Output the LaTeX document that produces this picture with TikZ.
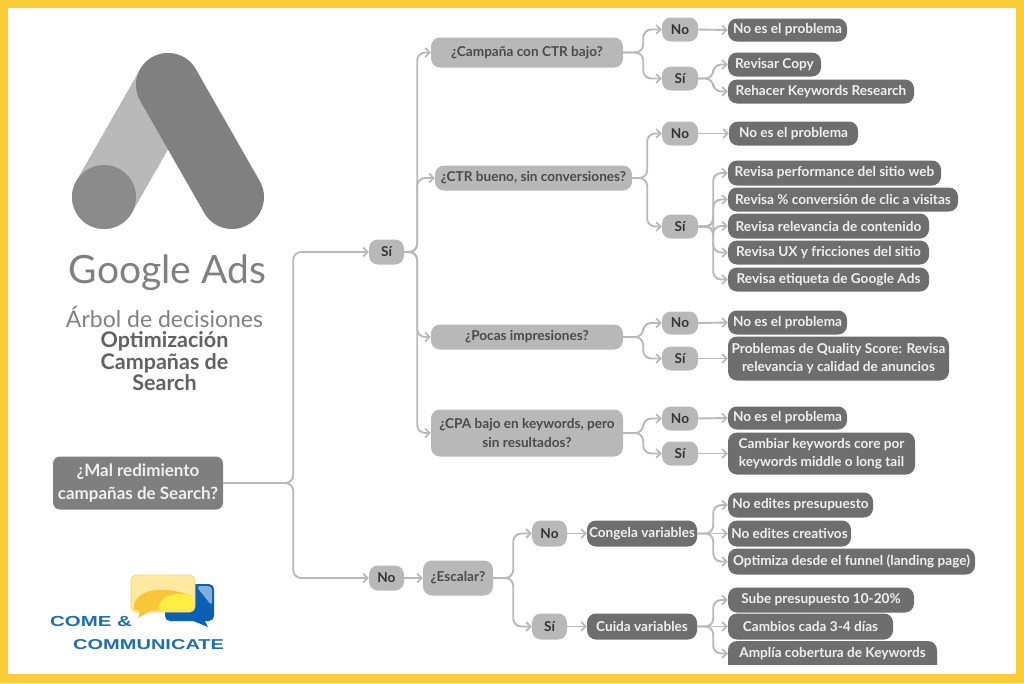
\documentclass[tikz,border=0pt]{standalone}
\usepackage{fontspec}
\setmainfont{Lato}
\newfontfamily\logofont[FakeStretch=1.4]{Liberation Sans}
\usetikzlibrary{arrows.meta}
\definecolor{frameY}{HTML}{FBCD37}
\definecolor{lineG}{HTML}{B9B9B9}
\definecolor{darkbox}{HTML}{6E6E6E}
\definecolor{rootbox}{HTML}{7F7F7F}
\definecolor{midbox}{HTML}{B8B8B8}
\definecolor{midtext}{HTML}{4A4A4A}
\definecolor{logodark}{HTML}{808080}
\definecolor{logolight}{HTML}{B9B9B9}
\definecolor{logocirc}{HTML}{8B8B8B}
\definecolor{cblue}{HTML}{1F6DB2}
\definecolor{cbluedk}{HTML}{0B5FB5}
\definecolor{cyel}{HTML}{F9C63A}
\definecolor{cyellt}{HTML}{FDE9A0}
\tikzset{
  boxbase/.style={inner sep=0pt,align=center,font=\bfseries\fontsize{13.6}{18.5}\selectfont},
  leafbox/.style={boxbase,fill=darkbox,text=white!94!black,rounded corners=9pt},
  midnode/.style={boxbase,fill=midbox,text=midtext,rounded corners=9pt},
  answer/.style={boxbase,fill=midbox,text=black!80,rounded corners=9pt},
  rootnode/.style={boxbase,fill=rootbox,text=white!94!black,rounded corners=7pt,font=\bfseries\fontsize{17}{22.5}\selectfont},
  plainlabel/.style={boxbase,text=white!94!black},
  conn/.style={draw=lineG,line width=1.9pt,rounded corners=8pt,-{Straight Barb[length=4.5pt,width=9pt,line width=1.7pt]}},
}
\newcommand{\bx}[7]{\node[#2,minimum width={(#5-#3)*1pt},minimum height={(#6-#4)*1pt}] (#1) at ({(#3+#5)/2},{(#4+#6)/2+0.5}) {#7};}
\newcommand{\cn}[3]{\draw[conn] (#1.east) -- ++(#3,0) |- (#2.west);}
\newcommand{\st}[2]{\draw[conn] (#1.east) -- (#2.west);}
\begin{document}
\begin{tikzpicture}[x=1pt,y=-1pt]
\useasboundingbox (0,0) rectangle (1024,683);
\fill[frameY] (0,0) rectangle (1024,683);
\fill[white] (8,8) rectangle (1016,674);
% Google Ads mark
\draw[logolight,line width=64pt,line cap=round] (168,85) -- (104,197);
\fill[logocirc] (104,197) circle (32);
\draw[logodark,line width=64pt,line cap=round] (168,85) -- (232,197);
% title
\node[text=logodark,font=\fontsize{39}{39}\selectfont,inner sep=0pt] (brand) at (167.5,273) {Google Ads};
\node[text=logodark,font=\fontsize{23}{23}\selectfont,inner sep=0pt] (arbol) at (164.5,317) {Árbol de decisiones};
\node[text=black!62,font=\bfseries\fontsize{21.5}{21.5}\selectfont,align=center,inner sep=0pt] (optim) at (164.5,361.5) {Optimización\\Campañas de\\Search};
% Come & Communicate mark
\fill[cbluedk,rounded corners=5pt] (165,584) rectangle (214,621);
\fill[cbluedk] (186,618) -- (208,627) -- (202,615) -- cycle;
\fill[cblue!55!white,rounded corners=4pt] (196,586) -- (212,586) -- (212,606) -- cycle;
\fill[cyellt,draw=cyel!80!white,line width=.6pt,rounded corners=5pt] (131,575) rectangle (195,612);
\fill[cyel] (138,618) -- (141,608) -- (150,611) -- cycle;
\fill[cyel,rounded corners=4pt] (133,610.5) .. controls (136,590) and (160,585) .. (193,596) -- (193.5,610.5) -- cycle;
\fill[yellow!60!cyellt,rounded corners=3pt] (158,610.5) .. controls (160,596) and (176,591) .. (193,596) -- (193.5,610.5) -- cycle;
\node[text=cblue,font=\bfseries\fontsize{14.6}{14.5}\selectfont\logofont,inner sep=0pt,anchor=west] (come) at (50,621) {COME \&};
\node[text=cblue,font=\bfseries\fontsize{14.3}{14.5}\selectfont\logofont,inner sep=0pt,anchor=west] (comm) at (73,644.5) {COMMUNICATE};
% root and first level
\bx{root}{rootnode}{53}{456}{223}{509}{¿Mal redimiento\\campañas de Search?}
\bx{si}{answer}{369}{239}{404}{264}{Sí}
\bx{no}{answer}{369}{565}{404}{590}{No}
% questions
\bx{qa}{midnode}{431}{37}{623}{67}{¿Campaña con CTR bajo?}
\bx{qb}{midnode}{435}{165}{632}{190}{¿CTR bueno, sin conversiones?}
\bx{qc}{midnode}{431}{324}{623}{349}{¿Pocas impresiones?}
\bx{qd}{midnode}{431}{409}{623}{456}{¿CPA bajo en keywords, pero\\sin resultados?}
\bx{esc}{midnode}{423}{560}{493}{595}{¿Escalar?}
% answers
\bx{an}{answer}{662}{17}{698}{41}{No}
\bx{as}{answer}{662}{66}{698}{90}{Sí}
\bx{bn}{answer}{662}{121}{698}{145}{No}
\bx{bs}{answer}{662}{214}{698}{238}{Sí}
\bx{cn}{answer}{662}{311}{698}{334}{No}
\bx{cs}{answer}{662}{346}{698}{370}{Sí}
\bx{dn}{answer}{662}{406}{698}{430}{No}
\bx{ds}{answer}{662}{441}{698}{465}{Sí}
\bx{en}{answer}{532}{520}{567}{546}{No}
\bx{es}{answer}{532}{613}{567}{639}{Sí}
% leaves
\bx{la}{leafbox}{728}{18}{847}{41}{No es el problema}
\bx{lb}{leafbox}{728}{52}{821}{76}{Revisar Copy}
\bx{lc}{leafbox}{728}{79}{914}{103}{Rehacer Keywords Research}
\bx{ld}{leafbox}{729}{121}{858}{145}{No es el problema}
\bx{le}{leafbox}{728}{160}{941}{185}{Revisa performance del sitio web}
\bx{lf}{leafbox}{728}{187}{958}{211}{Revisa \% conversión de clic a visitas}
\bx{lg}{leafbox}{728}{213}{929}{238}{Revisa relevancia de contenido}
\bx{lh}{leafbox}{728}{240}{929}{264}{Revisa UX y fricciones del sitio}
\bx{li}{leafbox}{728}{267}{929}{291}{Revisa etiqueta de Google Ads}
\bx{lj}{leafbox}{728}{310}{847}{334}{No es el problema}
\bx{lk}{leafbox}{728}{336}{949}{380}{Problemas de Quality Score: Revisa\\relevancia y calidad de anuncios}
\bx{ll}{leafbox}{728}{406}{847}{429}{No es el problema}
\bx{lm}{leafbox}{728}{432}{915}{474}{Cambiar keywords core por\\keywords middle o long tail}
\bx{cong}{leafbox}{587}{520}{697}{546}{Congela variables}
\bx{cuid}{leafbox}{587}{613}{697}{639}{Cuida variables}
\bx{ln}{leafbox}{728}{492}{873}{517}{No edites presupuesto}
\bx{lo}{leafbox}{728}{520}{851}{546}{No edites creativos}
\bx{lp}{leafbox}{728}{548}{975}{574}{Optimiza desde el funnel (landing page)}
\bx{lq}{leafbox}{728}{587}{914}{612}{Sube presupuesto 10-20\%}
\bx{lr}{leafbox}{728}{613}{893}{639}{Cambios cada 3-4 días}
\fill[darkbox,rounded corners=9pt] (728,641) rectangle (937,674);
\fill[white] (720,664.5) rectangle (945,674);
\fill[frameY] (720,674) rectangle (945,683);
\bx{ls}{plainlabel}{728}{641}{937}{665}{Amplía cobertura de Keywords}
% connectors
\cn{root}{si}{70}\cn{root}{no}{70}
\cn{si}{qa}{13}\cn{si}{qb}{13}\cn{si}{qc}{13}\cn{si}{qd}{13}
\st{no}{esc}
\cn{qa}{an}{20}\cn{qa}{as}{20}
\cn{qb}{bn}{15}\cn{qb}{bs}{15}
\cn{qc}{cn}{20}\cn{qc}{cs}{20}
\cn{qd}{dn}{20}\cn{qd}{ds}{20}
\cn{esc}{en}{20}\cn{esc}{es}{20}
\st{an}{la}\cn{as}{lb}{15}\cn{as}{lc}{15}
\st{bn}{ld}
\cn{bs}{le}{15}\cn{bs}{lf}{15}\cn{bs}{lg}{15}\cn{bs}{lh}{15}\cn{bs}{li}{15}
\st{cn}{lj}\st{cs}{lk}
\st{dn}{ll}\st{ds}{lm}
\st{en}{cong}\st{es}{cuid}
\cn{cong}{ln}{16}\st{cong}{lo}\cn{cong}{lp}{16}
\cn{cuid}{lq}{16}\st{cuid}{lr}\cn{cuid}{ls}{16}
\end{tikzpicture}
\end{document}
